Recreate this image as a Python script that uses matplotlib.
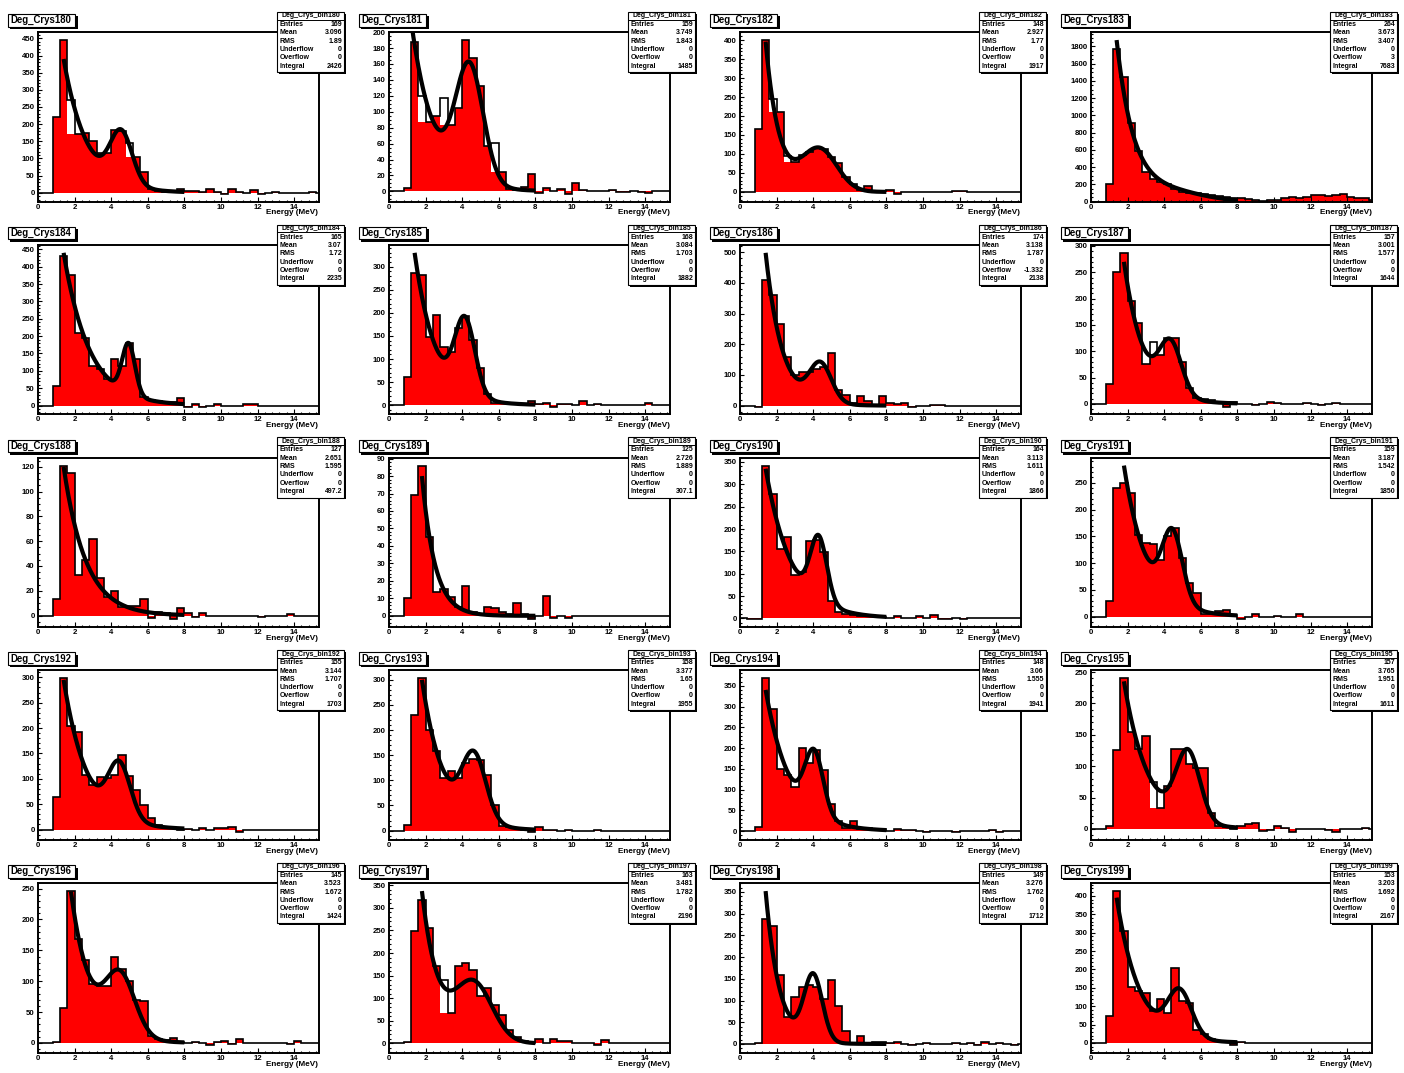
import numpy as np
import matplotlib
matplotlib.use("Agg")
import matplotlib.pyplot as plt
from matplotlib.patches import Rectangle
from matplotlib.lines import Line2D
from matplotlib.ticker import MultipleLocator, FuncFormatter

plt.rcParams['font.family'] = ['Liberation Sans', 'DejaVu Sans']
plt.rcParams['font.weight'] = 'bold'

# ---- background-subtracted spectra, counts per 0.4 MeV bin starting at 0 MeV ----
crys180 = [0, 0, 220, 445, 270, 170, 175, 152, 115, 115, 182, 180, 145, 105, 60, 10, 5, 3, 2, 12,
           5, 5, 3, 10, 2, -3, 10, 3, 0, 7, -3, 0, 3, 0, 0, 0, 0, 3, 0]
crys181 = [0, 0, 4, 188, 120, 87, 95, 117, 84, 105, 190, 167, 132, 57, 61, 25, 3, 2, 6, 22,
           -2, 4, 1, 3, -3, 10, 2, 0, 1, 0, 2, -1, -1, 0, -1, -2, 0, 0, 0]
crys182 = [0, 0, 165, 400, 245, 210, 95, 78, 97, 105, 115, 112, 92, 75, 40, 22, 5, 15, 3, 2,
           5, -5, 0, 0, 0, 0, 0, 0, 0, 3, 2, 0, -1, 0, 0, 0, 0, 0, 0]
crys183 = [0, 0, 200, 1770, 1450, 910, 590, 340, 260, 230, 200, 150, 115, 100, 95, 85, 75, 60, 50, 40,
           35, 30, 20, 10, 15, 20, 45, 55, 40, 50, 78, 70, 65, 70, 90, 50, 35, 40, 20]
crys184 = [0, 0, 55, 430, 375, 210, 195, 115, 105, 75, 135, 115, 180, 135, 25, 15, 12, 10, 10, 22,
           -3, 5, -3, 0, 5, 0, 0, 0, 5, 3, 0, 0, 0, 0, 0, -2, 0, 0, 0]
crys185 = [0, 0, 62, 287, 282, 148, 195, 125, 115, 168, 193, 142, 80, 25, 5, 5, 5, 3, 2, 8,
           3, 5, -3, 3, 2, 0, 10, 0, 3, 0, 0, 0, 0, 0, 0, 5, 0, 0, 0]
crys186 = [0, -2, -3, 410, 360, 265, 160, 100, 110, 110, 120, 125, 173, 50, 35, 10, 30, 15, 3, 32,
           8, 5, 8, -3, -2, 0, 2, 2, 0, 0, 0, -2, 0, 0, 0, 0, 0, 0, 0]
crys187 = [0, 0, 38, 250, 287, 195, 153, 75, 118, 92, 125, 125, 80, 30, 12, 10, 7, 3, -5, 3,
           0, 0, -2, 0, 3, 2, 0, 0, 0, 2, 0, -2, 0, 2, 0, 0, 0, 0, 0]
crys188 = [0, 0, 13, 121, 115, 33, 45, 62, 30, 15, 20, 7, 8, 8, 13, -2, 3, 2, -3, 6,
           2, -1, 2, 0, 0, 0, 0, 0, 0, 0, -1, 0, 0, 0, 1, 0, 0, 0, 0]
crys189 = [0, 0, 10, 69, 86, 45, 13.5, 15.5, 11, 5, 17, 2, 1, 5, 4.5, 2, 1, 7.5, 1, -2,
           0, 11.5, -1, 0, -1.5, 0, 0, 0, 0, 0, 0, 0, 0, 0, 0, 0, 0, 0, 0]
crys190 = [0, -2, -2, 342, 278, 155, 183, 98, 103, 173, 175, 148, 38, 15, 10, 8, 5, 5, 5, 3,
           2, 5, 0, 0, 5, 0, 8, -2, -2, 0, -2, 0, 0, 0, 0, 0, 0, 0, 0]
crys191 = [0, 0, 30, 240, 250, 230, 153, 137, 135, 105, 150, 165, 110, 63, 45, 5, 5, 10, 12, 3,
           -5, 0, 5, 0, 0, 2, 0, 0, 5, 0, 0, 0, 0, 0, 0, 0, 0, 0, 0]
crys192 = [0, 0, 65, 298, 205, 193, 107, 88, 104, 102, 108, 147, 105, 78, 48, 22, 8, 5, 3, 0,
           2, 0, 3, 0, 3, 3, 4, -5, 0, 0, 0, 0, 0, 0, 0, 0, 0, 0, 0]
crys193 = [0, 0, 12, 230, 303, 200, 158, 105, 118, 105, 135, 143, 140, 111, 50, 10, 8, 5, 2, -3,
           8, 2, 2, 0, 2, 0, 0, 0, 1, 0, 0, 0, 0, 0, 0, 0, 0, -1, 0]
crys194 = [0, 0, 10, 368, 293, 150, 135, 107, 200, 165, 195, 148, 65, 25, 8, 25, 5, 8, 5, 5,
           0, 5, 2, 2, 0, -2, 0, 0, 0, -1, 0, 0, 0, 0, 3, -2, 0, 0, 0]
crys195 = [0, 0, 5, 125, 240, 155, 128, 148, 75, 34, 68, 128, 127, 104, 97, 97, 25, 5, 3, 0,
           5, 8, 10, -3, -2, 5, 2, -5, 0, 0, 0, 0, -2, -5, 0, 0, 0, 2, 0]
crys196 = [0, 0, 2, 57, 246, 168, 135, 95, 92, 92, 140, 120, 100, 70, 68, 12, 7, 5, 8, 2,
           0, 2, 0, -3, 2, 3, -2, 7, 0, 0, 0, 0, 0, 0, -2, 3, 0, 0, 0]
crys197 = [0, 0, 3, 248, 318, 255, 172, 140, 68, 172, 178, 163, 105, 122, 85, 62, 30, 15, 5, 0,
           10, 0, 10, 5, 5, 0, 0, 0, -3, 7, 0, 0, 0, 0, 0, 0, 0, 0, 0]
crys198 = [0, 0, 2, 288, 272, 158, 63, 107, 130, 135, 130, 103, 148, 88, 30, 0, 18, 3, 5, 5,
           3, 4, 0, -2, 0, 2, 0, 0, 0, 3, 0, 3, -2, 5, 0, 2, 0, -2, 0]
crys199 = [0, 0, 72, 413, 305, 152, 142, 137, 87, 120, 82, 203, 115, 110, 35, 25, 10, 5, 2, -5,
           2, 0, 0, 0, 0, 0, 0, 0, 0, 0, 0, 0, 0, 0, 0, 0, 0, 0, 0]

crystal_ids = list(range(180, 200))
spectra = [crys180, crys181, crys182, crys183, crys184, crys185, crys186, crys187, crys188, crys189,
           crys190, crys191, crys192, crys193, crys194, crys195, crys196, crys197, crys198, crys199]

BIN_WIDTH = 0.4
X_MAX = 15.36

# ---- expo + gaus fits: exp(p0 + p1*E) + A*exp(-0.5*((E - mu)/sigma)^2), drawn up to 8 MeV ----
fit_start = [1.4, 1.2, 1.4, 1.4, 1.4, 1.4, 1.4, 1.8, 1.4, 1.8,
             1.4, 1.8, 1.4, 1.8, 1.4, 1.8, 1.8, 1.8, 1.4, 1.4]
fit_p0 = [7.041, 6.307, 7.841, 8.988, 7.081, 6.989, 7.751, 7.218, 5.935, 6.902,
          6.790, 7.046, 6.747, 7.173, 6.857, 6.805, 7.121, 7.740, 7.734, 7.095]
fit_p1 = [-0.768, -0.78, -1.33, -1.05, -0.71, -0.85, -1.10, -0.90, -0.82, -1.40,
          -0.697, -0.78, -0.757, -0.816, -0.734, -0.747, -0.90, -1.07, -1.336, -0.797]
gaus_amp = [150, 145, 109, 100, 145, 161, 125, 96, 0, 0,
            142, 129, 106, 129, 149, 110, 96, 124, 152, 123]
gaus_mean = [4.55, 4.4, 4.35, 4.2, 4.95, 4.15, 4.4, 4.35, 4.0, 4.0,
             4.3, 4.45, 4.45, 4.65, 4.05, 5.3, 4.5, 4.65, 4.0, 4.85]
gaus_sigma = [0.6, 0.75, 0.95, 1.9, 0.35, 0.55, 0.6, 0.6, 1.0, 1.0,
              0.45, 0.55, 0.6, 0.65, 0.5, 0.65, 0.8, 1.0, 0.5, 0.65]
FIT_END = 8.0

# ---- statistics boxes ----
stat_entries = ["169", "159", "148", "264", "165", "168", "174", "157", "127", "125",
                "164", "159", "155", "158", "148", "157", "145", "163", "149", "153"]
stat_mean = ["3.096", "3.749", "2.927", "3.673", "3.07", "3.084", "3.138", "3.001", "2.651", "2.726",
             "3.113", "3.187", "3.144", "3.377", "3.06", "3.765", "3.523", "3.481", "3.276", "3.203"]
stat_rms = ["1.89", "1.843", "1.77", "3.407", "1.72", "1.703", "1.787", "1.577", "1.595", "1.889",
            "1.611", "1.542", "1.707", "1.65", "1.555", "1.951", "1.672", "1.782", "1.762", "1.692"]
stat_underflow = ["0"] * 20
stat_overflow = ["0", "0", "0", "3", "0", "0", "-1.332", "0", "0", "0",
                 "0", "0", "0", "0", "0", "0", "0", "0", "0", "0"]
stat_integral = ["2426", "1485", "1917", "7683", "2235", "1882", "2138", "1644", "497.2", "307.1",
                 "1866", "1850", "1703", "1955", "1941", "1611", "1424", "2196", "1712", "2167"]
stat_names = ["Entries", "Mean", "RMS", "Underflow", "Overflow", "Integral"]

# bins whose red fill only reaches the level of the following bin
fill_gap_bins = {180: [4, 12], 181: [4, 7, 14], 182: [4, 6], 187: [8], 195: [8], 197: [7]}

# ---- canvas geometry (pixels) ----
W, H = 1404, 1073
COL_PITCH, ROW_PITCH = 351.0, 212.75
FRAME_L, FRAME_R, FRAME_T, FRAME_B = 38.0, 319.0, 32.0, 201.5

fig = plt.figure(figsize=(W / 100, H / 100), dpi=100, facecolor='white')


def fig_rect(x, y, w, h, **kw):
    fig.add_artist(Rectangle((x / W, 1 - (y + h) / H), w / W, h / H,
                             transform=fig.transFigure, **kw))


def fig_label(x, y, s, **kw):
    fig.text(x / W, 1 - y / H, s, **kw)


def fit_eval(i, e):
    return (np.exp(fit_p0[i] + fit_p1[i] * e)
            + gaus_amp[i] * np.exp(-0.5 * ((e - gaus_mean[i]) / gaus_sigma[i]) ** 2))


for i, cid in enumerate(crystal_ids):
    row, col = divmod(i, 4)
    ox, oy = col * COL_PITCH, row * ROW_PITCH

    ax = fig.add_axes([(ox + FRAME_L) / W, 1 - (oy + FRAME_B) / H,
                       (FRAME_R - FRAME_L) / W, (FRAME_B - FRAME_T) / H])

    vals = np.asarray(spectra[i], dtype=float)
    edges = np.arange(len(vals) + 1) * BIN_WIDTH
    centers = edges[:-1] + BIN_WIDTH / 2

    fill_vals = vals.copy()
    for b in fill_gap_bins.get(cid, []):
        fill_vals[b] = min(vals[b], vals[b + 1])

    ax.stairs(fill_vals, edges, baseline=0, fill=True, color='#ff0000', lw=0, zorder=1)
    ax.stairs(vals, edges, baseline=0, color='black', lw=1.2, zorder=2)

    xf = np.linspace(fit_start[i], FIT_END, 300)
    ax.plot(xf, fit_eval(i, xf), color='black', lw=3.0, solid_capstyle='butt', zorder=3)

    # vertical range: histogram extremes and fit at bin centres, 5 % margins
    vis = centers < X_MAX
    in_fit = vis & (centers >= fit_start[i] - 1e-9) & (centers <= FIT_END)
    top = max(vals[vis].max(), fit_eval(i, centers[in_fit]).max())
    low = vals[vis].min()
    dy = 0.05 * (top - low)
    ymin = 0.0 if (low >= 0 and low - dy <= 0) else low - dy
    ymax = top + 0.05 * (top - ymin)
    ax.set_xlim(0, X_MAX)
    ax.set_ylim(ymin, ymax)

    span = ymax - ymin
    for step in [1, 2, 5, 10, 20, 50, 100, 200, 500, 1000]:
        if span / step <= 11:
            break
    ax.yaxis.set_major_locator(MultipleLocator(step))
    ax.yaxis.set_minor_locator(MultipleLocator(step / (4 if str(step)[0] == '2' else 5)))
    ax.yaxis.set_major_formatter(FuncFormatter(lambda v, p: f"{v:g}"))
    ax.xaxis.set_major_locator(MultipleLocator(2))
    ax.xaxis.set_minor_locator(MultipleLocator(0.4))
    ax.xaxis.set_major_formatter(FuncFormatter(lambda v, p: f"{v:g}"))

    for s in ax.spines.values():
        s.set_linewidth(1.4)
        s.set_color('black')
    ax.tick_params(axis='both', which='both', direction='in', top=False, right=False,
                   width=0.8, labelsize=5.6)
    ax.tick_params(axis='x', which='major', length=3.6, pad=1.5)
    ax.tick_params(axis='x', which='minor', length=1.8)
    ax.tick_params(axis='y', which='major', length=2.9, pad=2.5)
    ax.tick_params(axis='y', which='minor', length=1.5)

    fig_label(ox + 318.5, oy + 213.0, "Energy (MeV)", ha='right', va='center', fontsize=5.9)

    # title box with shadow
    fig_rect(ox + 10.0, oy + 16.5, 67.5, 12.5, facecolor='black', edgecolor='none')
    fig_rect(ox + 7.5, oy + 14.0, 67.5, 12.5, facecolor='white', edgecolor='black', lw=0.8)
    fig_label(ox + 10.0, oy + 20.4, f"Deg_Crys{cid}", ha='left', va='center', fontsize=6.9)

    # statistics box with shadow
    sx, sy, sw, sh = ox + 277.0, oy + 12.0, 67.0, 60.0
    fig_rect(sx + 2.0, sy + 2.0, sw, sh, facecolor='black', edgecolor='none')
    fig_rect(sx, sy, sw, sh, facecolor='white', edgecolor='black', lw=0.8)
    fig.add_artist(Line2D([sx / W, (sx + sw) / W], [1 - (sy + 7.5) / H] * 2,
                          transform=fig.transFigure, color='black', lw=0.7))
    fig_label(sx + sw / 2, sy + 3.9, f"Deg_Crys_bin{cid}", ha='center', va='center', fontsize=5.0)
    values = [stat_entries[i], stat_mean[i], stat_rms[i],
              stat_underflow[i], stat_overflow[i], stat_integral[i]]
    for k, (name, val) in enumerate(zip(stat_names, values)):
        yy = sy + 12.5 + 8.3 * k
        fig_label(sx + 2.5, yy, name, ha='left', va='center', fontsize=5.0)
        fig_label(sx + sw - 2.0, yy, val, ha='right', va='center', fontsize=5.0)

fig.savefig("out.png", dpi=100, facecolor='white')
